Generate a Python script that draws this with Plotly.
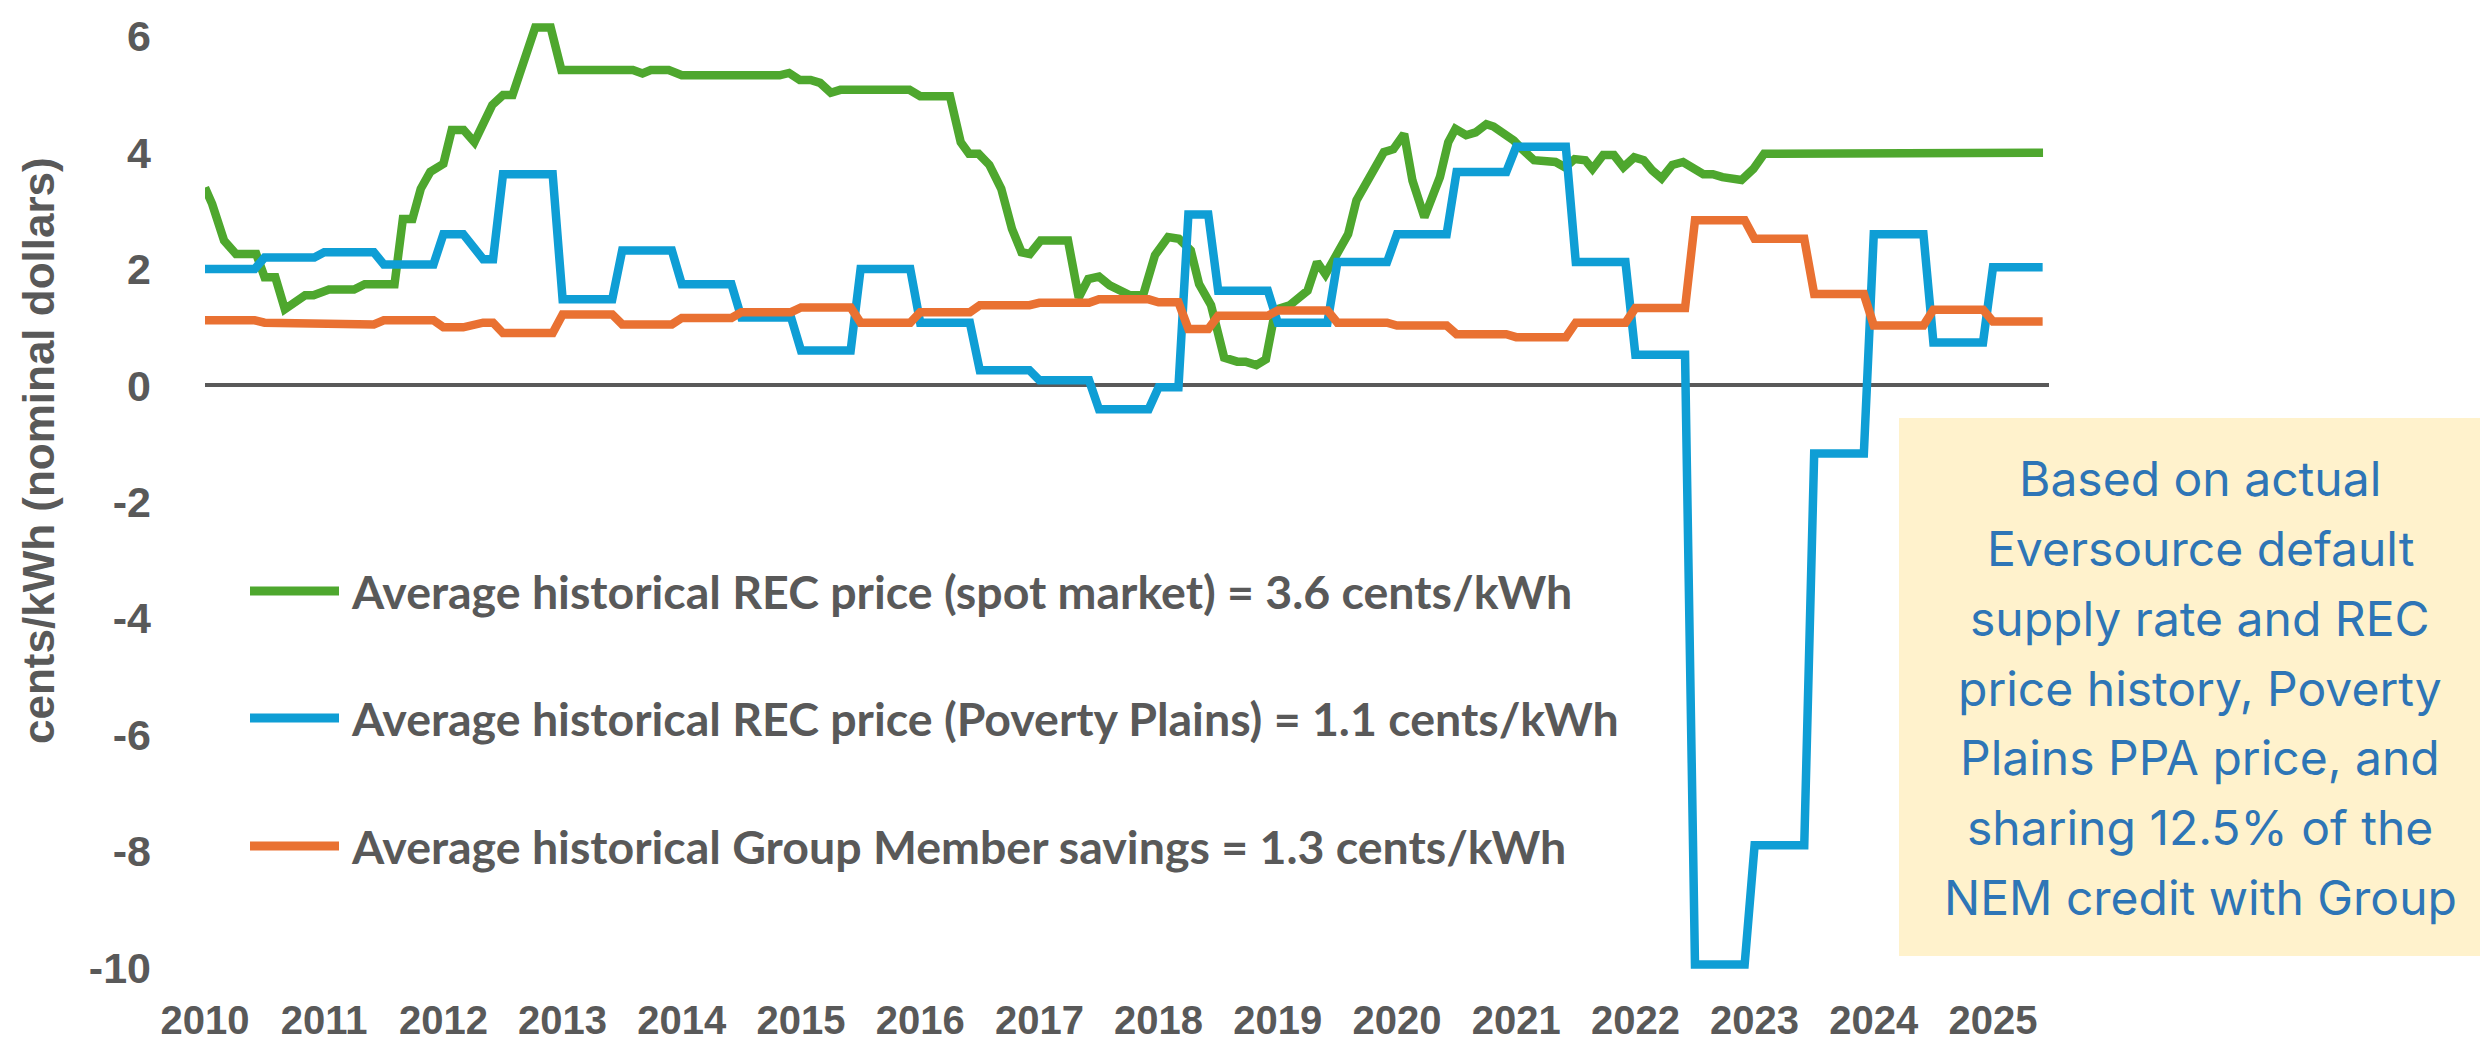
import plotly.graph_objects as go

# ---------------- data ----------------
green_x = [2010.00, 2010.06, 2010.16, 2010.26, 2010.43, 2010.50, 2010.59, 2010.67, 2010.84, 2010.91,
           2011.04, 2011.25, 2011.34, 2011.59, 2011.66, 2011.74, 2011.81, 2011.89, 2012.00, 2012.07,
           2012.17, 2012.26, 2012.41, 2012.50, 2012.58, 2012.71, 2012.77, 2012.90, 2012.99, 2013.59,
           2013.67, 2013.74, 2013.89, 2014.00, 2014.82, 2014.90, 2014.99, 2015.08, 2015.16, 2015.25,
           2015.33, 2015.91, 2016.00, 2016.25, 2016.34, 2016.41, 2016.49, 2016.58, 2016.68, 2016.77,
           2016.85, 2016.92, 2017.01, 2017.24, 2017.33, 2017.41, 2017.50, 2017.59, 2017.68, 2017.76,
           2017.87, 2017.97, 2018.08, 2018.17, 2018.27, 2018.34, 2018.44, 2018.55, 2018.66, 2018.73,
           2018.82, 2018.90, 2018.98, 2019.10, 2019.25, 2019.33, 2019.40, 2019.53, 2019.59, 2019.66,
           2019.78, 2019.89, 2019.97, 2020.06, 2020.13, 2020.23, 2020.36, 2020.43, 2020.49, 2020.58,
           2020.66, 2020.75, 2020.81, 2020.90, 2020.98, 2021.05, 2021.15, 2021.33, 2021.41, 2021.49,
           2021.58, 2021.64, 2021.73, 2021.82, 2021.90, 2021.99, 2022.07, 2022.14, 2022.22, 2022.31,
           2022.40, 2022.57, 2022.65, 2022.73, 2022.89, 2022.99, 2023.08, 2025.42]
green_y = [3.40, 3.12, 2.49, 2.26, 2.26, 1.86, 1.86, 1.31, 1.55, 1.55,
           1.65, 1.65, 1.74, 1.74, 2.86, 2.86, 3.38, 3.67, 3.81, 4.39,
           4.39, 4.18, 4.82, 4.99, 4.99, 5.76, 6.15, 6.15, 5.42, 5.42,
           5.36, 5.42, 5.42, 5.33, 5.33, 5.37, 5.25, 5.25, 5.20, 5.03,
           5.08, 5.08, 4.97, 4.97, 4.18, 3.98, 3.98, 3.79, 3.38, 2.69,
           2.29, 2.26, 2.49, 2.49, 1.51, 1.83, 1.87, 1.72, 1.64, 1.55,
           1.55, 2.24, 2.55, 2.52, 2.32, 1.74, 1.38, 0.48, 0.41, 0.41,
           0.35, 0.45, 1.30, 1.38, 1.63, 2.12, 1.91, 2.38, 2.60, 3.18,
           3.63, 4.01, 4.06, 4.32, 3.52, 2.89, 3.58, 4.18, 4.41, 4.30,
           4.35, 4.49, 4.45, 4.32, 4.21, 4.06, 3.87, 3.84, 3.75, 3.89,
           3.87, 3.72, 3.96, 3.96, 3.75, 3.92, 3.87, 3.70, 3.56, 3.79,
           3.84, 3.63, 3.63, 3.58, 3.53, 3.72, 3.98, 4.00]

blue_months = ["2010-01", "2010-06", "2010-07", "2010-12", "2011-01", "2011-06", "2011-07", "2011-12",
               "2012-01", "2012-03", "2012-05", "2012-06", "2012-07", "2012-12", "2013-01", "2013-06",
               "2013-07", "2013-12", "2014-01", "2014-06", "2014-07", "2014-12", "2015-01", "2015-06",
               "2015-07", "2015-12", "2016-01", "2016-06", "2016-07", "2016-12", "2017-01", "2017-06",
               "2017-07", "2017-12", "2018-01", "2018-03", "2018-04", "2018-06", "2018-07", "2018-12",
               "2019-01", "2019-06", "2019-07", "2019-12", "2020-01", "2020-06", "2020-07", "2020-12",
               "2021-01", "2021-06", "2021-07", "2021-12", "2022-01", "2022-06", "2022-07", "2022-12",
               "2023-01", "2023-06", "2023-07", "2023-12", "2024-01", "2024-06", "2024-07", "2024-12",
               "2025-01", "2025-06"]
blue_y = [2.00, 2.00, 2.20, 2.20, 2.29, 2.29, 2.08, 2.08,
          2.60, 2.60, 2.17, 2.17, 3.63, 3.63, 1.48, 1.48,
          2.32, 2.32, 1.74, 1.74, 1.17, 1.17, 0.60, 0.60,
          2.00, 2.00, 1.08, 1.08, 0.26, 0.26, 0.09, 0.09,
          -0.41, -0.41, -0.03, -0.03, 2.94, 2.94, 1.63, 1.63,
          1.08, 1.08, 2.12, 2.12, 2.60, 2.60, 3.67, 3.67,
          4.10, 4.10, 2.12, 2.12, 0.53, 0.53, -9.95, -9.95,
          -7.90, -7.90, -1.17, -1.17, 2.60, 2.60, 0.74, 0.74,
          2.03, 2.03]

orange_months = blue_months
orange_y = [1.12, 1.12, 1.08, 1.08, 1.05, 1.05, 1.12, 1.12,
            1.00, 1.00, 1.08, 1.08, 0.90, 0.90, 1.22, 1.22,
            1.05, 1.05, 1.16, 1.16, 1.26, 1.26, 1.34, 1.34,
            1.08, 1.08, 1.26, 1.26, 1.38, 1.38, 1.42, 1.42,
            1.48, 1.48, 1.43, 1.43, 0.97, 0.97, 1.20, 1.20,
            1.29, 1.29, 1.08, 1.08, 1.03, 1.03, 0.88, 0.88,
            0.83, 0.83, 1.08, 1.08, 1.33, 1.33, 2.84, 2.84,
            2.52, 2.52, 1.57, 1.57, 1.03, 1.03, 1.30, 1.30,
            1.10, 1.10]

series_names = [
    "Average historical REC price (spot market) = 3.6 cents/kWh",
    "Average historical REC price (Poverty Plains) = 1.1 cents/kWh",
    "Average historical Group Member savings = 1.3 cents/kWh",
]
series_colors = ["#4EA72E", "#0F9ED5", "#E97132"]

year_ticks = list(range(2010, 2026))
year_labels = [str(y) for y in year_ticks]
y_ticks = [-10, -8, -6, -4, -2, 0, 2, 4, 6]
y_labels = ["-10", "-8", "-6", "-4", "-2", "0", "2", "4", "6"]

note_lines = [
    "Based on actual",
    "Eversource default",
    "supply rate and REC",
    "price history, Poverty",
    "Plains PPA price, and",
    "sharing 12.5% of the",
    "NEM credit with Group",
]

# ---------------- layout geometry ----------------
W, H = 2488, 1041
ML, MR, MT, MB = 197, 447, 0, 56
PW = W - ML - MR
PH = H - MT - MB


def px_x(x):
    return (x - ML) / PW


def px_y(y):
    return 1 - (y - MT) / PH


def ym(s):
    yy, mm = s.split("-")
    return int(yy) + (int(mm) - 1) / 12.0


GREY = "#595959"
XTICKFONT = dict(family="Liberation Sans, Arial, sans-serif", size=40, color=GREY, weight="bold")
YTICKFONT = dict(family="Liberation Sans, Arial, sans-serif", size=43, color=GREY, weight="bold")
LEGFONT = dict(family="Lato, Liberation Sans, sans-serif", size=46.5, color=GREY, weight="bold")

fig = go.Figure()
xs = [green_x, [ym(m) for m in blue_months], [ym(m) for m in orange_months]]
ys = [green_y, blue_y, orange_y]
for name, col, x, y in zip(series_names, series_colors, xs, ys):
    fig.add_trace(go.Scatter(x=x, y=y, mode="lines", name=name,
                             line=dict(color=col, width=8.5), hoverinfo="x+y"))

shapes = []
annotations = []

# manual legend inside the plot
leg_y_px = [583, 710, 838]
for name, col, ypx in zip(series_names, series_colors, leg_y_px):
    shapes.append(dict(type="line", xref="paper", yref="paper",
                       x0=px_x(242), x1=px_x(331), y0=px_y(ypx), y1=px_y(ypx),
                       line=dict(color=col, width=9)))
    annotations.append(dict(xref="paper", yref="paper", x=px_x(341), y=px_y(ypx),
                            xanchor="left", yanchor="middle", text=name,
                            showarrow=False, font=LEGFONT))

# note box
shapes.append(dict(type="rect", xref="paper", yref="paper",
                   x0=px_x(1891), x1=px_x(2495), y0=px_y(948), y1=px_y(410),
                   fillcolor="#FFF2CC", line=dict(width=0), layer="above"))
block_center = 680
for i, t in enumerate(note_lines):
    annotations.append(dict(xref="paper", yref="paper", x=px_x(2192),
                            y=px_y(block_center + (i - 3) * 69.8),
                            xanchor="center", yanchor="middle", text=t, showarrow=False,
                            font=dict(family="Inter, Open Sans, sans-serif", size=48, color="#2E75B6")))

# y-axis title
annotations.append(dict(xref="paper", yref="paper", x=px_x(30), y=px_y(443),
                        xanchor="center", yanchor="middle", textangle=-90,
                        text="cents/kWh (nominal dollars)", showarrow=False,
                        font=dict(family="Liberation Sans, Arial, sans-serif", size=44,
                                  color=GREY, weight="bold")))

fig.update_layout(
    width=W, height=H,
    margin=dict(l=ML, r=MR, t=MT, b=MB, autoexpand=False),
    paper_bgcolor="white", plot_bgcolor="white",
    showlegend=False,
    shapes=shapes, annotations=annotations,
    xaxis=dict(range=[2010, 2025.47], tickvals=year_ticks, ticktext=year_labels,
               showgrid=False, zeroline=False, showline=False, ticks="",
               tickfont=XTICKFONT, ticklabelstandoff=0, fixedrange=True),
    yaxis=dict(range=[-10.438, 6.486], tickvals=y_ticks, ticktext=y_labels,
               showgrid=False, zeroline=True, zerolinecolor=GREY, zerolinewidth=4,
               showline=False, ticks="", tickfont=YTICKFONT, ticklabelstandoff=53,
               fixedrange=True),
)

fig.write_html("out.html")
